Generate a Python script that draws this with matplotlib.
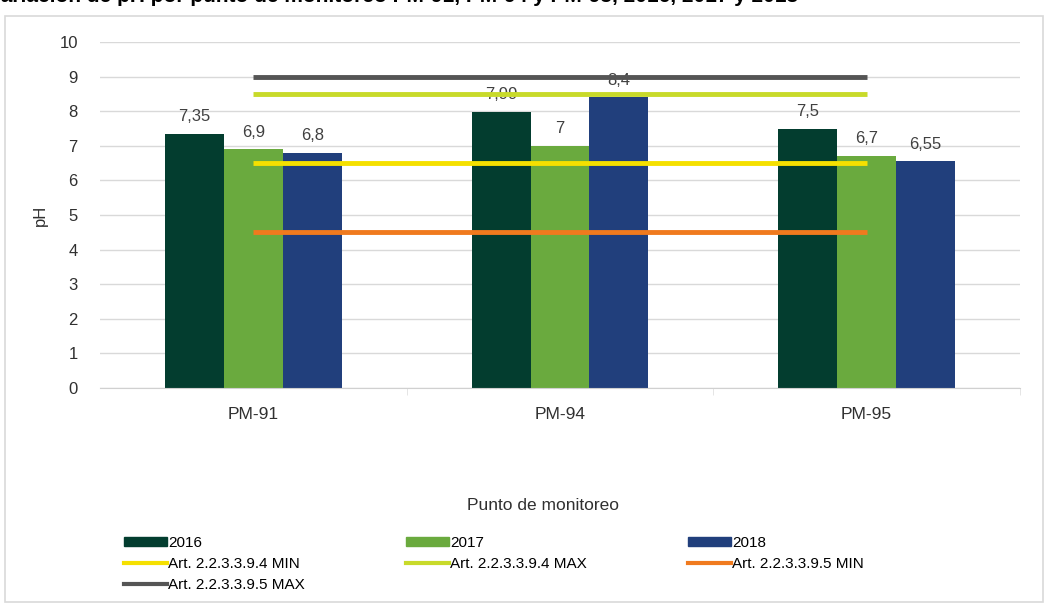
import matplotlib.pyplot as plt
import matplotlib.patches as mpatches
from matplotlib.lines import Line2D
import numpy as np

plt.rcParams['font.family'] = ['Liberation Sans', 'DejaVu Sans']

# datos
puntos = ['PM-91', 'PM-94', 'PM-95']
anios = ['2016', '2017', '2018']
ph_2016 = [7.35, 7.99, 7.5]
ph_2017 = [6.9, 7.0, 6.7]
ph_2018 = [6.8, 8.4, 6.55]
limites = ['Art. 2.2.3.3.9.4 MIN', 'Art. 2.2.3.3.9.4 MAX',
           'Art. 2.2.3.3.9.5 MIN', 'Art. 2.2.3.3.9.5 MAX']
valores_limite = [6.5, 8.5, 4.5, 9.0]

colores_barras = ['#033D2F', '#6AAA3E', '#213F7C']
colores_lineas = ['#F5E000', '#C8DA2A', '#F07A1E', '#555555']

W, H = 1050, 606
fig = plt.figure(figsize=(W / 100, H / 100), dpi=100)
ax = fig.add_axes([100 / W, 1 - 388 / H, 920 / W, 346 / H])

# marco del grafico
fig.patches.append(mpatches.Rectangle((5 / W, 4 / H), 1038 / W, 586 / H,
                                      transform=fig.transFigure, fill=False,
                                      edgecolor='#D9D9D9', linewidth=1.2))

# titulo (cortado en la imagen original)
fig.text(-12 / W, 1 - 2 / H, 'Variación de pH por punto de monitoreo PM-91, PM-94 y PM-95, 2016, 2017 y 2018',
         fontsize=15, fontweight='bold', va='baseline', ha='left')

x = np.arange(len(puntos))
w = 0.192
series = [ph_2016, ph_2017, ph_2018]
for i, (vals, c) in enumerate(zip(series, colores_barras)):
    ax.bar(x + (i - 1) * w, vals, w, color=c, zorder=2)
    for xi, v in zip(x + (i - 1) * w, vals):
        etiqueta = ('%g' % v).replace('.', ',')
        ax.annotate(etiqueta, (xi, v), xytext=(0, 7), textcoords='offset points',
                    ha='center', va='bottom', fontsize=12, color='#404040', zorder=3)

for v, c in zip(valores_limite, colores_lineas):
    ax.plot([x[0], x[-1]], [v, v], color=c, linewidth=3.5, zorder=4,
            solid_capstyle='butt')

ax.set_xlim(-0.5, 2.5)
ax.set_ylim(0, 10)
ax.set_yticks(range(0, 11))
ax.set_xticks(x)
ax.set_xticklabels(puntos)
ax.yaxis.grid(True, color='#D9D9D9', linewidth=1, zorder=0)
ax.set_axisbelow(True)
for s in ['top', 'right', 'left']:
    ax.spines[s].set_visible(False)
ax.spines['bottom'].set_color('#D0D0D0')
ax.tick_params(axis='y', length=0, pad=16, labelsize=12, labelcolor='#303030')
ax.tick_params(axis='x', length=0, pad=14, labelsize=12.5, labelcolor='#303030')
# marcas entre categorias
ax.set_xticks([0.5, 1.5, 2.5], minor=True)
ax.tick_params(axis='x', which='minor', length=5, color='#E0E0E0', direction='out')

ax.set_ylabel('pH', fontsize=12, color='#303030', labelpad=8)
fig.text(543 / W, 1 - 505 / H, 'Punto de monitoreo', fontsize=12.5, color='#303030',
         ha='center', va='center')

# leyenda (orden por filas)
hb = [mpatches.Patch(color=c, label=a) for c, a in zip(colores_barras, anios)]
hl = [Line2D([], [], color=c, linewidth=3, label=t) for c, t in zip(colores_lineas, limites)]
orden = [hb[0], hl[0], hl[3], hb[1], hl[1], hb[2], hl[2]]
fig.legend(handles=orden, loc='upper left', bbox_to_anchor=(124 / W, 1 - 536 / H),
           ncol=3, frameon=False, fontsize=11, handlelength=2.8, handleheight=0.6,
           handletextpad=0.1, columnspacing=6.6, labelspacing=0.45,
           borderaxespad=0, borderpad=0)

fig.savefig('out.png', dpi=100)
